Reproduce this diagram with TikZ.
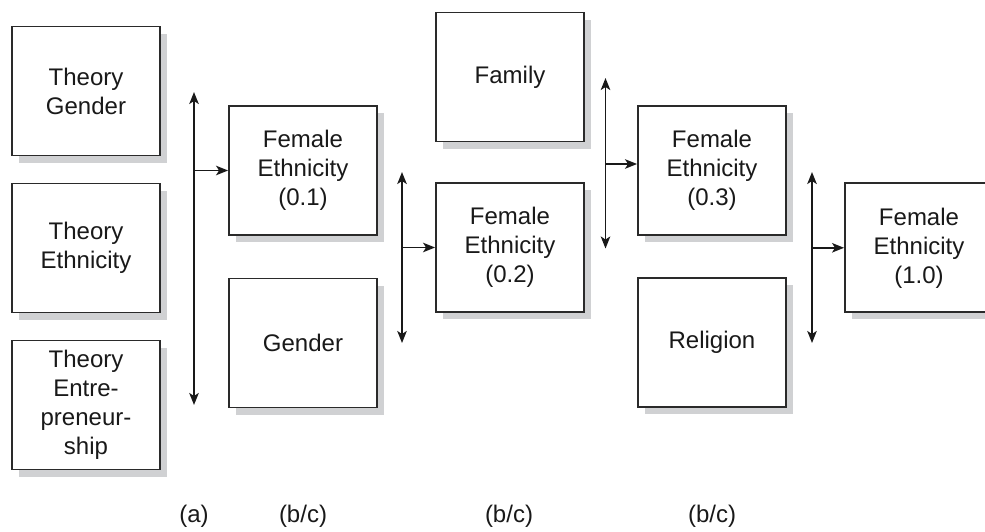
\documentclass[tikz,border=0pt]{standalone}
\usepackage{fontspec}
\setmainfont{Liberation Sans}
\usetikzlibrary{arrows.meta,shadows}
\definecolor{boxline}{HTML}{2A2A2A}
\definecolor{shade}{HTML}{D0D1D3}
\begin{document}
\begin{tikzpicture}[x=1pt,y=-1pt,
  fbox/.style={draw=boxline,line width=1.9pt,fill=white,
    minimum width=148pt,minimum height=129pt,align=center,inner sep=0pt,
    font=\fontsize{24}{29}\selectfont,text=black!90,
    drop shadow={shadow xshift=7pt,shadow yshift=-7pt,fill=shade,opacity=1}},
  conn/.style={line width=1.6pt,draw=black!90,
    arrows={-Stealth[length=12pt,width=9.5pt,inset=3pt]}},
  dconn/.style={line width=1.6pt,draw=black!90,
    arrows={Stealth[length=12pt,width=9.5pt,inset=3pt]-Stealth[length=12pt,width=9.5pt,inset=3pt]}},
  lab/.style={font=\fontsize{24}{29}\selectfont,text=black!90}]
\useasboundingbox (0,0) rectangle (985,531);
% column (a)
\node[fbox] (tg) at (86,91) {Theory\\Gender};
\node[fbox] (te) at (86,248) {Theory\\Ethnicity};
\node[fbox] (tp) at (86,405) {Theory\\Entre-\\preneur-\\ship};
% column 1
\node[fbox] (fe1) at (303,170.5) {Female\\Ethnicity\\(0.1)};
\node[fbox] (gen) at (303,343) {Gender};
% column 2
\node[fbox] (fam) at (510,77) {Family};
\node[fbox] (fe2) at (510,247.5) {Female\\Ethnicity\\(0.2)};
% column 3
\node[fbox] (fe3) at (712,170.5) {Female\\Ethnicity\\(0.3)};
\node[fbox] (rel) at (712,342.7) {Religion};
% column 4
\node[fbox] (fe4) at (919,247.8) {Female\\Ethnicity\\(1.0)};
% connectors
\coordinate (a1t) at (194,92);
\coordinate (a1b) at (194,405);
\coordinate (a1m) at (194,170.5);
\draw[dconn] (a1b) -- (a1t);
\draw[conn] (a1m) -- (fe1.west);
\coordinate (a2t) at (402,172);
\coordinate (a2b) at (402,343);
\coordinate (a2m) at (402,247.5);
\draw[dconn] (a2b) -- (a2t);
\draw[conn] (a2m) -- (fe2.west);
\coordinate (a3t) at (605.5,78);
\coordinate (a3b) at (605.5,248.5);
\coordinate (a3m) at (605.5,164);
\draw[dconn] (a3b) -- (a3t);
\draw[conn] (a3m) -- (fe3.west |- a3m);
\coordinate (a4t) at (812,172);
\coordinate (a4b) at (812,343);
\coordinate (a4m) at (812,247.8);
\draw[dconn] (a4b) -- (a4t);
\draw[conn] (a4m) -- (fe4.west);
% labels
\node[lab] (la) at (194,516) {(a)};
\node[lab] (lb1) at (303,516) {(b/c)};
\node[lab] (lb2) at (509,516) {(b/c)};
\node[lab] (lb3) at (712,516) {(b/c)};
\end{tikzpicture}
\end{document}
